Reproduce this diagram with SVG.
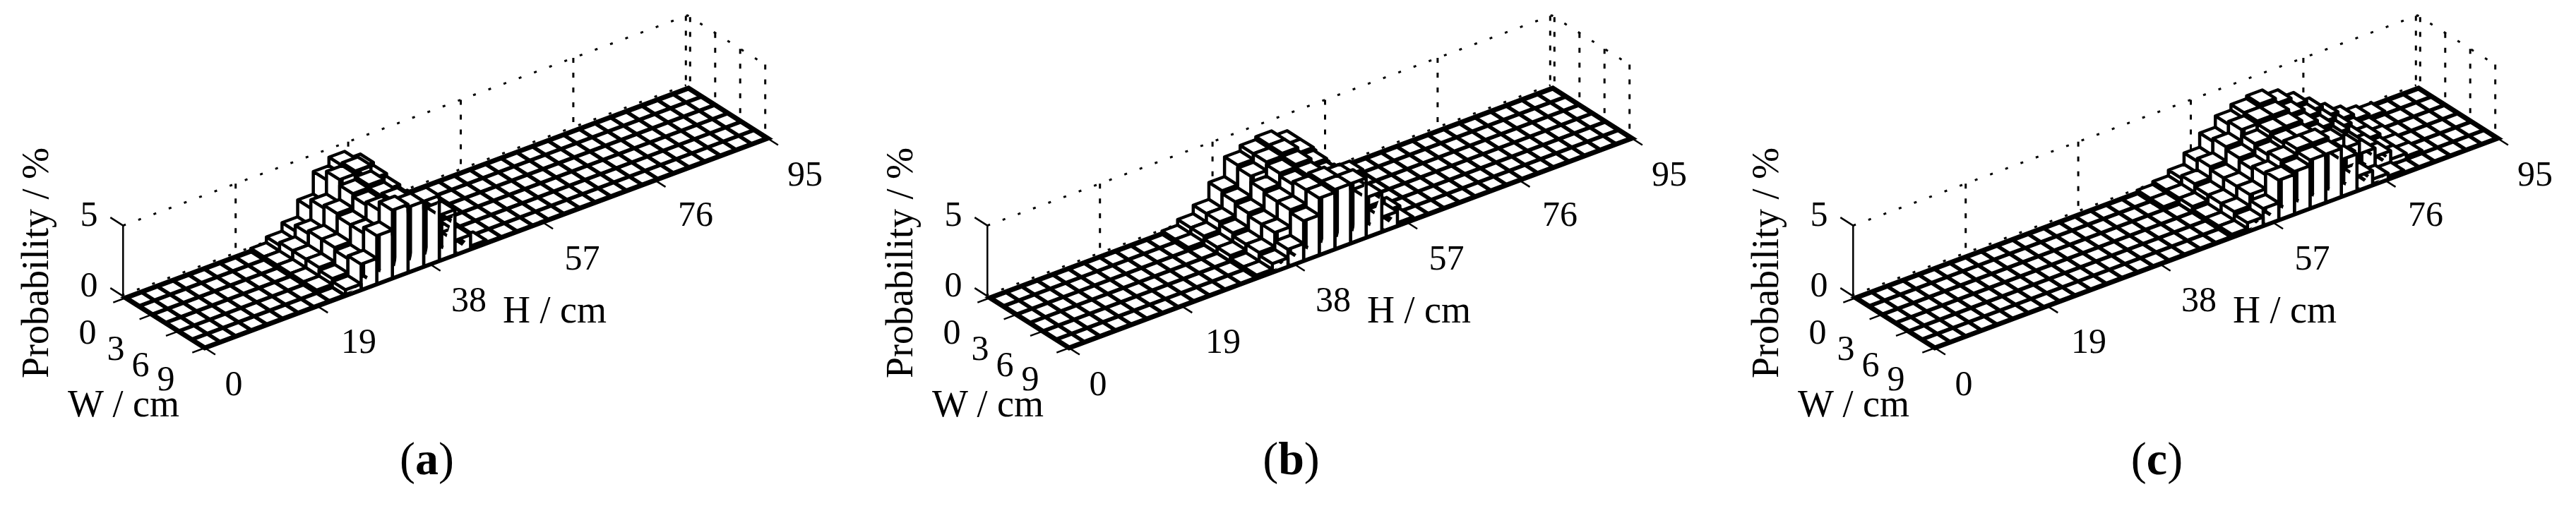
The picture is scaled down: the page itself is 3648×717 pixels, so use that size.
<svg xmlns="http://www.w3.org/2000/svg" width="3648" height="717" viewBox="0 0 3648 717">
<style>
.dot{fill:none;stroke:#000;stroke-width:3;stroke-dasharray:4 19}
.dsh{fill:none;stroke:#000;stroke-width:3;stroke-dasharray:7 14}
.ax{fill:none;stroke:#000;stroke-width:2.5}
.grid{fill:none;stroke:#000;stroke-width:5.5;vector-effect:non-scaling-stroke}
.edge{fill:none;stroke:#000;stroke-width:7;vector-effect:non-scaling-stroke}
.bar{fill:#fff;stroke:#000;stroke-width:4.5;vector-effect:non-scaling-stroke;stroke-linejoin:round}
text{font-family:"Liberation Serif","Times New Roman",serif;fill:#000}
.tk{font-size:50px;text-anchor:middle}
.lb{font-size:54px}
.cap{font-size:66px;text-anchor:middle}
</style>
<defs>
<path id="k1" class="bar" d="M0 0V1H1L1.180 0.787V-0.213H0.180ZM0 1L0.180 0.787H1.180M0.180 0.787V-0.213"/>
<path id="k2" class="bar" d="M0 0V1H1L1.359 0.574V-0.426H0.359ZM0 1L0.359 0.574H1.359M0.359 0.574V-0.426"/>
<path id="k3" class="bar" d="M0 0V1H1L1.539 0.361V-0.639H0.539ZM0 1L0.539 0.361H1.539M0.539 0.361V-0.639"/>
<path id="k4" class="bar" d="M0 0V1H1L1.718 0.148V-0.852H0.718ZM0 1L0.718 0.148H1.718M0.718 0.148V-0.852"/>
<path id="k5" class="bar" d="M0 0V1H1L1.898 -0.065V-1.065H0.898ZM0 1L0.898 -0.065H1.898M0.898 -0.065V-1.065"/>
<path id="k6" class="bar" d="M0 0V1H1L2.077 -0.278V-1.278H1.077ZM0 1L1.077 -0.278H2.077M1.077 -0.278V-1.278"/>
<path id="k7" class="bar" d="M0 0V1H1L2.257 -0.490V-1.490H1.257ZM0 1L1.257 -0.490H2.257M1.257 -0.490V-1.490"/>
<path id="k8" class="bar" d="M0 0V1H1L2.436 -0.703V-1.703H1.436ZM0 1L1.436 -0.703H2.436M1.436 -0.703V-1.703"/>
<path id="k9" class="bar" d="M0 0V1H1L2.616 -0.916V-1.916H1.616ZM0 1L1.616 -0.916H2.616M1.616 -0.916V-1.916"/>
<path id="k10" class="bar" d="M0 0V1H1L2.796 -1.129V-2.129H1.796ZM0 1L1.796 -1.129H2.796M1.796 -1.129V-2.129"/>
<path id="k11" class="bar" d="M0 0V1H1L2.975 -1.342V-2.342H1.975ZM0 1L1.975 -1.342H2.975M1.975 -1.342V-2.342"/>
<path id="k12" class="bar" d="M0 0V1H1L3.155 -1.555V-2.555H2.155ZM0 1L2.155 -1.555H3.155M2.155 -1.555V-2.555"/>
<path id="k13" class="bar" d="M0 0V1H1L3.334 -1.768V-2.768H2.334ZM0 1L2.334 -1.768H3.334M2.334 -1.768V-2.768"/>
<path id="k14" class="bar" d="M0 0V1H1L3.514 -1.981V-2.981H2.514ZM0 1L2.514 -1.981H3.514M2.514 -1.981V-2.981"/>
<path id="k15" class="bar" d="M0 0V1H1L3.693 -2.194V-3.194H2.693ZM0 1L2.693 -2.194H3.693M2.693 -2.194V-3.194"/>
<path id="k16" class="bar" d="M0 0V1H1L3.873 -2.407V-3.407H2.873ZM0 1L2.873 -2.407H3.873M2.873 -2.407V-3.407"/>
<path id="k17" class="bar" d="M0 0V1H1L4.053 -2.620V-3.620H3.053ZM0 1L3.053 -2.620H4.053M3.053 -2.620V-3.620"/>
<path id="k18" class="bar" d="M0 0V1H1L4.232 -2.833V-3.833H3.232ZM0 1L3.232 -2.833H4.232M3.232 -2.833V-3.833"/>
<path id="k19" class="bar" d="M0 0V1H1L4.412 -3.045V-4.045H3.412ZM0 1L3.412 -3.045H4.412M3.412 -3.045V-4.045"/>
<path id="k20" class="bar" d="M0 0V1H1L4.591 -3.258V-4.258H3.591ZM0 1L3.591 -3.258H4.591M3.591 -3.258V-4.258"/>
<path id="k21" class="bar" d="M0 0V1H1L4.771 -3.471V-4.471H3.771ZM0 1L3.771 -3.471H4.771M3.771 -3.471V-4.471"/>
<path id="k22" class="bar" d="M0 0V1H1L4.950 -3.684V-4.684H3.950ZM0 1L3.950 -3.684H4.950M3.950 -3.684V-4.684"/>
<path id="k23" class="bar" d="M0 0V1H1L5.130 -3.897V-4.897H4.130ZM0 1L4.130 -3.897H5.130M4.130 -3.897V-4.897"/>
<path id="k24" class="bar" d="M0 0V1H1L5.309 -4.110V-5.110H4.309ZM0 1L4.309 -4.110H5.309M4.309 -4.110V-5.110"/>
<path id="k25" class="bar" d="M0 0V1H1L5.489 -4.323V-5.323H4.489ZM0 1L4.489 -4.323H5.489M4.489 -4.323V-5.323"/>
<g id="frame">
<path class="dot" d="M174.3 319.6L973.6 21.8L1083.7 91.6"/>
<path class="dot" d="M172.4 418.5L971.7 120.6"/>
<path class="dsh" d="M333.7 260.2V354M493.1 200.8V295M652.5 141.4V236M811.9 82V176M971.3 22.6V117M977.3 24.2V118M1012.8 46.7V141M1048.2 69.2V163M1083.7 91.6V186"/>
<path class="ax" d="M174.3 419.6V319.6M174.3 419.6l-18 -11.5M174.3 319.6l-18 -11.5"/>
<g transform="matrix(22.14,-8.25,18.67,11.83,178,422)">
<path class="grid" d="M1 0V6M2 0V6M3 0V6M4 0V6M5 0V6M6 0V6M7 0V6M8 0V6M9 0V6M10 0V6M11 0V6M12 0V6M13 0V6M14 0V6M15 0V6M16 0V6M17 0V6M18 0V6M19 0V6M20 0V6M21 0V6M22 0V6M23 0V6M24 0V6M25 0V6M26 0V6M27 0V6M28 0V6M29 0V6M30 0V6M31 0V6M32 0V6M33 0V6M34 0V6M35 0V6M0 1H36M0 2H36M0 3H36M0 4H36M0 5H36"/>
<path class="edge" d="M0 0H36V6H0Z"/>
</g>
<path class="ax" d="M178 422l-17.7 6.6M215.3 445.7l-17.7 6.6M252.7 469.3l-17.7 6.6M290 493l-17.7 6.6M290 493l14.9 9.5M449.4 433.6l14.9 9.5M608.8 374.2l14.9 9.5M768.2 314.8l14.9 9.5M927.6 255.4l14.9 9.5M1087 196l14.9 9.5"/>
<text class="tk" x="126" y="320">5</text>
<text class="tk" x="126" y="420">0</text>
<text class="tk" x="124" y="487">0</text>
<text class="tk" x="164" y="510">3</text>
<text class="tk" x="199" y="533">6</text>
<text class="tk" x="235" y="553">9</text>
<text class="tk" x="331" y="560">0</text>
<text class="tk" x="508" y="500">19</text>
<text class="tk" x="664" y="441">38</text>
<text class="tk" x="824.5" y="382">57</text>
<text class="tk" x="985" y="320">76</text>
<text class="tk" x="1140" y="263">95</text>
<text class="lb" x="96" y="590">W / cm</text>
<text class="lb" x="712" y="457">H / cm</text>
<text class="lb" transform="translate(68 372.5) rotate(-90)" text-anchor="middle">Probability / %</text>
</g>
</defs>
<rect width="3648" height="717" fill="#fff"/>
<g id="panel-a">
<use href="#frame"/>
<g id="bars-a" transform="matrix(22.14,-8.25,18.67,11.83,178,422)">
<use href="#k1" x="17" y="0"/><use href="#k5" x="16" y="0"/><use href="#k12" x="15" y="0"/><use href="#k20" x="14" y="0"/><use href="#k23" x="13" y="0"/><use href="#k20" x="12" y="0"/><use href="#k12" x="11" y="0"/><use href="#k6" x="10" y="0"/><use href="#k3" x="9" y="0"/><use href="#k1" x="8" y="0"/>
<use href="#k1" x="17" y="1"/><use href="#k4" x="16" y="1"/><use href="#k11" x="15" y="1"/><use href="#k19" x="14" y="1"/><use href="#k24" x="13" y="1"/><use href="#k23" x="12" y="1"/><use href="#k15" x="11" y="1"/><use href="#k8" x="10" y="1"/><use href="#k4" x="9" y="1"/><use href="#k1" x="8" y="1"/>
<use href="#k3" x="16" y="2"/><use href="#k10" x="15" y="2"/><use href="#k18" x="14" y="2"/><use href="#k22" x="13" y="2"/><use href="#k21" x="12" y="2"/><use href="#k16" x="11" y="2"/><use href="#k9" x="10" y="2"/><use href="#k4" x="9" y="2"/><use href="#k1" x="8" y="2"/>
<use href="#k3" x="16" y="3"/><use href="#k9" x="15" y="3"/><use href="#k17" x="14" y="3"/><use href="#k21" x="13" y="3"/><use href="#k20" x="12" y="3"/><use href="#k15" x="11" y="3"/><use href="#k9" x="10" y="3"/><use href="#k4" x="9" y="3"/><use href="#k1" x="8" y="3"/>
<use href="#k3" x="16" y="4"/><use href="#k11" x="15" y="4"/><use href="#k19" x="14" y="4"/><use href="#k22" x="13" y="4"/><use href="#k21" x="12" y="4"/><use href="#k15" x="11" y="4"/><use href="#k8" x="10" y="4"/><use href="#k3" x="9" y="4"/><use href="#k1" x="8" y="4"/>
<use href="#k1" x="17" y="5"/><use href="#k5" x="16" y="5"/><use href="#k16" x="15" y="5"/><use href="#k23" x="14" y="5"/><use href="#k23" x="13" y="5"/><use href="#k24" x="12" y="5"/><use href="#k17" x="11" y="5"/><use href="#k9" x="10" y="5"/><use href="#k2" x="9" y="5"/>
</g>
<text class="cap" x="604.5" y="672">(<tspan font-weight="bold">a</tspan>)</text>
</g>
<g id="panel-b" transform="translate(1224 0)">
<use href="#frame"/>
<g id="bars-b" transform="matrix(22.14,-8.25,18.67,11.83,178,422)">
<use href="#k1" x="22" y="0"/><use href="#k2" x="21" y="0"/><use href="#k7" x="20" y="0"/><use href="#k14" x="19" y="0"/><use href="#k20" x="18" y="0"/><use href="#k22" x="17" y="0"/><use href="#k21" x="16" y="0"/><use href="#k19" x="15" y="0"/><use href="#k12" x="14" y="0"/><use href="#k6" x="13" y="0"/><use href="#k3" x="12" y="0"/><use href="#k1" x="11" y="0"/>
<use href="#k2" x="21" y="1"/><use href="#k6" x="20" y="1"/><use href="#k13" x="19" y="1"/><use href="#k20" x="18" y="1"/><use href="#k22" x="17" y="1"/><use href="#k21" x="16" y="1"/><use href="#k18" x="15" y="1"/><use href="#k11" x="14" y="1"/><use href="#k6" x="13" y="1"/><use href="#k3" x="12" y="1"/><use href="#k1" x="11" y="1"/>
<use href="#k1" x="21" y="2"/><use href="#k5" x="20" y="2"/><use href="#k12" x="19" y="2"/><use href="#k19" x="18" y="2"/><use href="#k21" x="17" y="2"/><use href="#k20" x="16" y="2"/><use href="#k16" x="15" y="2"/><use href="#k10" x="14" y="2"/><use href="#k5" x="13" y="2"/><use href="#k2" x="12" y="2"/>
<use href="#k1" x="21" y="3"/><use href="#k5" x="20" y="3"/><use href="#k12" x="19" y="3"/><use href="#k18" x="18" y="3"/><use href="#k20" x="17" y="3"/><use href="#k19" x="16" y="3"/><use href="#k15" x="15" y="3"/><use href="#k9" x="14" y="3"/><use href="#k4" x="13" y="3"/><use href="#k2" x="12" y="3"/>
<use href="#k2" x="21" y="4"/><use href="#k6" x="20" y="4"/><use href="#k13" x="19" y="4"/><use href="#k20" x="18" y="4"/><use href="#k21" x="17" y="4"/><use href="#k20" x="16" y="4"/><use href="#k15" x="15" y="4"/><use href="#k9" x="14" y="4"/><use href="#k4" x="13" y="4"/><use href="#k1" x="12" y="4"/>
<use href="#k1" x="21" y="5"/><use href="#k5" x="20" y="5"/><use href="#k14" x="19" y="5"/><use href="#k21" x="18" y="5"/><use href="#k21" x="17" y="5"/><use href="#k20" x="16" y="5"/><use href="#k14" x="15" y="5"/><use href="#k6" x="14" y="5"/><use href="#k3" x="13" y="5"/><use href="#k1" x="12" y="5"/>
</g>
<text class="cap" x="604.5" y="672">(<tspan font-weight="bold">b</tspan>)</text>
</g>
<g id="panel-c" transform="translate(2450 0)">
<use href="#frame"/>
<g id="bars-c" transform="matrix(22.14,-8.25,18.67,11.83,178,422)">
<use href="#k1" x="32" y="0"/><use href="#k2" x="31" y="0"/><use href="#k4" x="30" y="0"/><use href="#k7" x="29" y="0"/><use href="#k11" x="28" y="0"/><use href="#k15" x="27" y="0"/><use href="#k18" x="26" y="0"/><use href="#k20" x="25" y="0"/><use href="#k19" x="24" y="0"/><use href="#k17" x="23" y="0"/><use href="#k13" x="22" y="0"/><use href="#k8" x="21" y="0"/><use href="#k4" x="20" y="0"/><use href="#k2" x="19" y="0"/><use href="#k1" x="18" y="0"/>
<use href="#k1" x="31" y="1"/><use href="#k3" x="30" y="1"/><use href="#k6" x="29" y="1"/><use href="#k10" x="28" y="1"/><use href="#k14" x="27" y="1"/><use href="#k17" x="26" y="1"/><use href="#k19" x="25" y="1"/><use href="#k19" x="24" y="1"/><use href="#k18" x="23" y="1"/><use href="#k14" x="22" y="1"/><use href="#k9" x="21" y="1"/><use href="#k5" x="20" y="1"/><use href="#k2" x="19" y="1"/><use href="#k1" x="18" y="1"/>
<use href="#k1" x="31" y="2"/><use href="#k3" x="30" y="2"/><use href="#k5" x="29" y="2"/><use href="#k9" x="28" y="2"/><use href="#k13" x="27" y="2"/><use href="#k16" x="26" y="2"/><use href="#k18" x="25" y="2"/><use href="#k18" x="24" y="2"/><use href="#k16" x="23" y="2"/><use href="#k13" x="22" y="2"/><use href="#k8" x="21" y="2"/><use href="#k4" x="20" y="2"/><use href="#k2" x="19" y="2"/>
<use href="#k1" x="31" y="3"/><use href="#k2" x="30" y="3"/><use href="#k5" x="29" y="3"/><use href="#k8" x="28" y="3"/><use href="#k12" x="27" y="3"/><use href="#k15" x="26" y="3"/><use href="#k17" x="25" y="3"/><use href="#k17" x="24" y="3"/><use href="#k15" x="23" y="3"/><use href="#k12" x="22" y="3"/><use href="#k8" x="21" y="3"/><use href="#k4" x="20" y="3"/><use href="#k1" x="19" y="3"/>
<use href="#k1" x="31" y="4"/><use href="#k2" x="30" y="4"/><use href="#k5" x="29" y="4"/><use href="#k8" x="28" y="4"/><use href="#k12" x="27" y="4"/><use href="#k16" x="26" y="4"/><use href="#k18" x="25" y="4"/><use href="#k18" x="24" y="4"/><use href="#k16" x="23" y="4"/><use href="#k13" x="22" y="4"/><use href="#k8" x="21" y="4"/><use href="#k4" x="20" y="4"/><use href="#k1" x="19" y="4"/>
<use href="#k1" x="29" y="5"/><use href="#k2" x="28" y="5"/><use href="#k5" x="27" y="5"/><use href="#k13" x="26" y="5"/><use href="#k17" x="25" y="5"/><use href="#k17" x="24" y="5"/><use href="#k15" x="23" y="5"/><use href="#k14" x="22" y="5"/><use href="#k6" x="21" y="5"/><use href="#k3" x="20" y="5"/><use href="#k1" x="19" y="5"/>
</g>
<text class="cap" x="604.5" y="672">(<tspan font-weight="bold">c</tspan>)</text>
</g>
</svg>
